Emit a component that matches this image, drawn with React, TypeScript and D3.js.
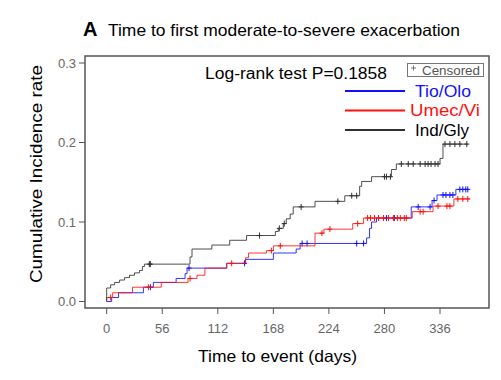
import React from "react";
import * as d3 from "d3";

// [day, cumulative incidence after step]
const indGlySteps: [number, number][] = [
  [0, 0], [0, 0.017], [4, 0.021], [8, 0.024], [13, 0.027], [18, 0.030], [23, 0.033],
  [28, 0.036], [33, 0.039], [36, 0.044], [38, 0.047], [84, 0.056], [86, 0.066],
  [106, 0.071], [124, 0.077], [141, 0.083], [170, 0.088], [173, 0.092], [178, 0.098],
  [181, 0.104], [185, 0.110], [188, 0.119], [210, 0.126], [240, 0.133], [255, 0.145],
  [257, 0.151], [267, 0.157], [287, 0.166], [292, 0.173], [336, 0.180], [339, 0.198],
  [364, 0.198],
];
const indGlyCensored: number[] = [
  43, 44, 154, 174, 179, 196, 233, 247, 252, 280, 282, 286, 297, 304, 309, 316, 321,
  324, 327, 331, 334, 341, 346, 351, 356, 363,
];

const tioOloSteps: [number, number][] = [
  [0, 0], [5, 0.005], [12, 0.011], [37, 0.018], [47, 0.024], [70, 0.029], [79, 0.035],
  [81, 0.042], [121, 0.048], [140, 0.053], [168, 0.061], [191, 0.066], [195, 0.073],
  [262, 0.080], [265, 0.092], [267, 0.100], [272, 0.105], [307, 0.119], [328, 0.127],
  [333, 0.134], [352, 0.141], [365, 0.141],
];
const tioOloCensored: number[] = [
  44, 83, 139, 197, 202, 252, 259, 282, 290, 314, 326, 330, 339, 342, 346, 349, 356,
  359, 362, 364,
];

const umecViSteps: [number, number][] = [
  [0, 0], [0, 0.005], [6, 0.011], [26, 0.018], [55, 0.024], [82, 0.029], [91, 0.033],
  [99, 0.042], [121, 0.048], [140, 0.055], [143, 0.061], [161, 0.064], [168, 0.070],
  [210, 0.086], [219, 0.091], [248, 0.098], [259, 0.105], [308, 0.113], [329, 0.120],
  [350, 0.129], [366, 0.129],
];
const umecViCensored: number[] = [
  4, 42, 84, 126, 166, 175, 217, 225, 253, 263, 266, 270, 274, 279, 284, 289, 293, 296,
  300, 302, 316, 319, 334, 343, 346, 354, 359, 364,
];

const xTicks = [0, 56, 112, 168, 224, 280, 336];
const yTicks = [0.0, 0.1, 0.2, 0.3];

const seriesNames = ["Tio/Olo", "Umec/Vi", "Ind/Gly"];
const seriesColors = ["#1010ff", "#ff1010", "#303030"];
const legendTextWidths = [56, 70, 54];

function valueAt(steps: [number, number][], t: number) {
  let v = 0;
  for (const [d, val] of steps) if (d <= t) v = val;
  return v;
}

export default function App() {
  const width = 501;
  const height = 380;
  const box = { left: 85, right: 489, top: 56, bottom: 308 };
  const x = d3.scaleLinear().domain([0, 336]).range([106.7, 440]);
  const y = d3.scaleLinear().domain([0, 0.3]).range([301.5, 63]);
  const line = d3
    .line<[number, number]>()
    .x((d) => x(d[0]))
    .y((d) => y(d[1]))
    .curve(d3.curveStepAfter);

  const series = [
    { steps: tioOloSteps, cens: tioOloCensored },
    { steps: umecViSteps, cens: umecViCensored },
    { steps: indGlySteps, cens: indGlyCensored },
  ];
  const font = "Arial, 'Liberation Sans', sans-serif";
  const gray = "#555";

  return (
    <svg width={width} height={height} style={{ position: "absolute", left: 0, top: 0, fontFamily: font }}>
      <rect width={width} height={height} fill="#fff" />
      <text x={83} y={36} fontSize={20} fontWeight="bold" fill="#000">A</text>
      <text x={108} y={36} fontSize={16.5} fill="#000" textLength={352} lengthAdjust="spacingAndGlyphs">
        Time to first moderate-to-severe exacerbation
      </text>

      <rect x={box.left} y={box.top} width={box.right - box.left} height={box.bottom - box.top}
        fill="none" stroke={gray} strokeWidth={1.5} />

      {yTicks.map((t) => (
        <g key={"y" + t}>
          <line x1={box.left - 6} x2={box.left} y1={y(t)} y2={y(t)} stroke={gray} strokeWidth={1} />
          <text x={box.left - 9} y={y(t) + 4.5} fontSize={13} fill="#666" textAnchor="end">{t.toFixed(1)}</text>
        </g>
      ))}
      {xTicks.map((t) => (
        <g key={"x" + t}>
          <line x1={x(t)} x2={x(t)} y1={box.bottom} y2={box.bottom + 6} stroke={gray} strokeWidth={1} />
          <text x={x(t)} y={333} fontSize={13} fill="#666" textAnchor="middle">{t}</text>
        </g>
      ))}

      <text x={198} y={362} fontSize={16.5} fill="#000" textLength={159} lengthAdjust="spacingAndGlyphs">
        Time to event (days)
      </text>
      <text transform="translate(42,283) rotate(-90)" fontSize={16} fill="#000" textLength={218}
        lengthAdjust="spacingAndGlyphs">
        Cumulative Incidence rate
      </text>

      {series.map((s, i) => (
        <g key={"s" + i}>
          <path d={line(s.steps) || ""} fill="none" stroke={seriesColors[i]} strokeWidth={1} opacity={0.85} />
          {s.cens.map((c, j) => {
            const cx = x(c);
            const cy = y(valueAt(s.steps, c));
            return (
              <g key={j} stroke={seriesColors[i]} strokeWidth={1}>
                <line x1={cx - 2.5} x2={cx + 2.5} y1={cy} y2={cy} />
                <line x1={cx} x2={cx} y1={cy - 3} y2={cy + 3} />
              </g>
            );
          })}
        </g>
      ))}

      <text x={205} y={79} fontSize={16} fill="#000" textLength={182} lengthAdjust="spacingAndGlyphs">
        Log-rank test P=0.1858
      </text>
      <rect x={407.5} y={63.5} width={76} height={13} fill="#fff" stroke="#777" strokeWidth={1} />
      <g stroke="#555" strokeWidth={0.8}>
        <line x1={411} x2={416} y1={68} y2={68} />
        <line x1={413.5} x2={413.5} y1={65.5} y2={70.5} />
      </g>
      <text x={422} y={75} fontSize={13} fill="#555" textLength={58} lengthAdjust="spacingAndGlyphs">Censored</text>

      {seriesNames.map((n, i) => (
        <g key={n}>
          <line x1={345} x2={405} y1={91 + i * 19.5} y2={91 + i * 19.5} stroke={seriesColors[i]} strokeWidth={2} />
          <text x={i === 1 ? 410 : 415} y={96.5 + i * 19.5} fontSize={16} fill={i === 2 ? "#000" : seriesColors[i]}
            textLength={legendTextWidths[i]} lengthAdjust="spacingAndGlyphs">{n}</text>
        </g>
      ))}
    </svg>
  );
}
